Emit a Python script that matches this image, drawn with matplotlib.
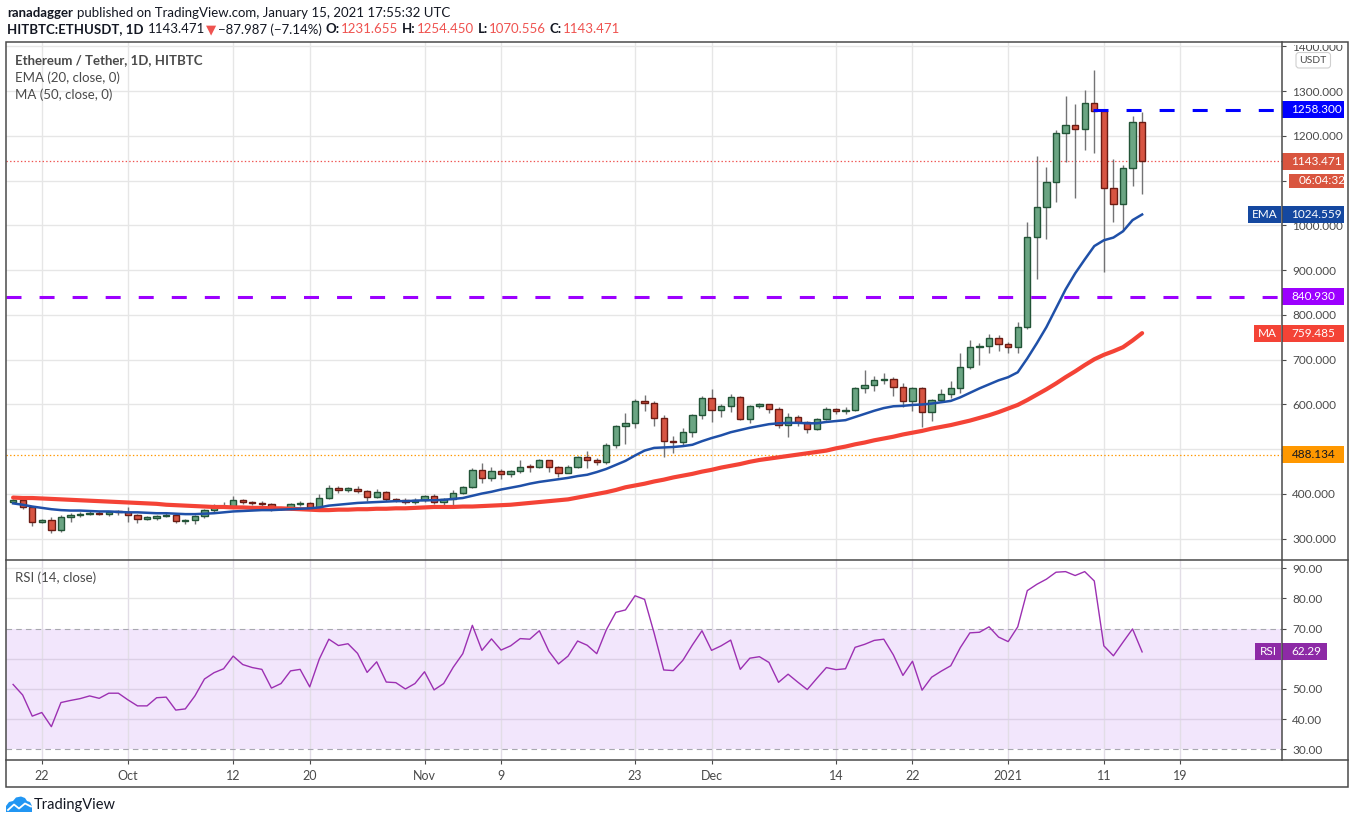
import matplotlib
matplotlib.use('Agg')
import matplotlib.pyplot as plt
import numpy as np
from matplotlib.patches import Rectangle, Polygon, FancyBboxPatch
from matplotlib.transforms import blended_transform_factory

plt.rcParams['font.family'] = ['Lato', 'DejaVu Sans']
plt.rcParams['lines.scale_dashes'] = False

# ---- data (daily candles, Sep 19 2020 .. Jan 15 2021), day 0 = Sep 22 ----
first_day = -3

opens = [383, 386, 370, 338, 342, 320, 348, 352, 355, 358, 356, 360,
         359, 352, 345, 347, 351, 354, 340, 342, 350, 364, 370, 374, 387, 381, 379, 377, 366, 368, 377,
         380, 368, 390, 413, 408, 412, 406, 393, 404, 388, 387, 382,
         386, 396, 382, 388, 402, 416, 454, 435, 452, 444, 451, 462, 460, 475, 461, 448, 460, 482, 477,
         471, 509, 551, 559, 607, 604, 569, 519, 517, 538, 576,
         615, 587, 597, 616, 568, 596, 600, 591, 555, 573, 560, 545, 567, 589, 585, 588, 636, 643, 654,
         657, 638, 607, 636, 584, 611, 624, 636, 683, 728, 731, 748,
         735, 729, 774, 975, 1042, 1098, 1207, 1225, 1216, 1273, 1255, 1083, 1047, 1128, 1231.655]
highs = [389, 388, 372, 345, 348, 353, 358, 360, 361, 363, 362, 364,
         371, 355, 350, 354, 359, 357, 344, 353, 366, 378, 381, 395, 389, 385, 384, 380, 369, 380, 384,
         382, 401, 420, 418, 416, 418, 409, 411, 406, 392, 390, 392,
         398, 400, 390, 409, 418, 457, 470, 460, 456, 453, 476, 466, 478, 477, 462, 464, 484, 496, 480,
         515, 554, 580, 612, 622, 607, 576, 529, 547, 578, 618,
         634, 602, 623, 620, 598, 603, 602, 594, 582, 576, 562, 570, 594, 593, 595, 640, 677, 663, 670,
         662, 649, 638, 640, 613, 634, 653, 714, 745, 737, 757, 755,
         740, 785, 1008, 1155, 1130, 1213, 1289, 1272, 1302, 1347, 1258, 1148, 1136, 1244, 1254.450]
lows = [380, 366, 329, 335, 313, 316, 337, 349, 352, 354, 351, 354,
        338, 335, 343, 341, 349, 336, 333, 334, 346, 360, 368, 371, 378, 376, 373, 362, 365, 365, 373,
        365, 366, 388, 402, 405, 402, 385, 390, 385, 382, 377, 378,
        383, 378, 372, 375, 400, 414, 424, 430, 433, 437, 447, 450, 458, 450, 439, 446, 458, 459, 465,
        468, 502, 511, 548, 586, 553, 482, 491, 507, 528, 567,
        561, 572, 584, 566, 558, 592, 582, 548, 528, 553, 536, 543, 565, 578, 578, 585, 625, 630, 645,
        619, 594, 586, 550, 564, 605, 614, 625, 680, 688, 716, 720,
        714, 716, 768, 880, 970, 1053, 1142, 1062, 1169, 1162, 897, 1007, 987, 1088, 1070.556]
closes = [387, 370, 338, 342, 320, 348, 352, 355, 358, 356, 360, 359,
          352, 345, 347, 351, 354, 340, 342, 350, 364, 370, 374, 387, 381, 379, 377, 366, 368, 377, 380,
          368, 390, 413, 408, 413, 406, 393, 404, 388, 387, 382, 386,
          396, 382, 388, 402, 416, 454, 435, 452, 444, 451, 461, 460, 475, 461, 448, 460, 482, 477, 471,
          509, 551, 559, 607, 604, 569, 519, 517, 538, 576, 615,
          587, 597, 616, 568, 596, 600, 591, 555, 573, 560, 545, 567, 589, 585, 588, 636, 643, 654, 657,
          638, 607, 636, 584, 611, 624, 636, 683, 728, 731, 748, 735,
          729, 774, 975, 1042, 1098, 1207, 1225, 1216, 1273, 1255, 1083, 1047, 1128, 1231.655, 1143.471]

ema20 = [379, 376, 372, 369, 366, 364, 363, 363, 362, 361, 361, 360,
         359, 359, 358, 357, 357, 356, 355, 355, 356, 357, 359, 361, 362, 363, 364, 364, 365, 366, 367,
         368, 370, 374, 376, 378, 380, 381, 382, 383, 384, 384, 385,
         386, 386, 387, 389, 391, 396, 401, 405, 410, 414, 418, 423, 427, 430, 433, 436, 440, 443, 449,
         456, 465, 474, 486, 497, 503, 504, 505, 507, 510, 518,
         525, 531, 538, 543, 548, 552, 556, 558, 559, 559, 558, 558, 561, 563, 565, 572, 579, 586, 592,
         596, 597, 599, 600, 602, 605, 608, 616, 626, 636, 645, 654,
         661, 672, 703, 737, 773, 815, 857, 893, 924, 954, 967, 973, 987, 1012, 1024.559]
ma50 = [392, 391, 391, 390, 389, 388, 387, 386, 385, 384, 383, 382,
        381, 380, 379, 378, 376, 375, 374, 373, 372, 371, 371, 370, 370, 369, 369, 368, 368, 367, 366,
        365, 364, 364, 365, 365, 366, 366, 367, 367, 368, 368, 369,
        370, 371, 371, 371, 372, 372, 373, 374, 375, 376, 378, 380, 382, 384, 386, 388, 392, 396, 400,
        404, 409, 415, 419, 423, 428, 432, 437, 441, 445, 450,
        454, 459, 463, 467, 472, 476, 479, 482, 485, 488, 491, 494, 497, 502, 506, 511, 515, 520, 524,
        528, 533, 537, 541, 546, 550, 554, 559, 564, 570, 576, 583,
        591, 599, 610, 622, 634, 647, 661, 674, 688, 701, 711, 719, 728, 743, 759.485]
rsi14 = [51.5, 48.0, 41.0, 42.2, 37.5, 45.5, 46.2, 46.8, 47.7, 46.9, 48.6, 48.6,
         46.4, 44.4, 44.4, 47.1, 47.3, 43.0, 43.4, 47.7, 53.3, 55.4, 56.7, 60.9, 58.1, 57.1, 56.5,
         50.3, 51.8, 56.0, 56.5, 50.7, 59.9, 66.5, 64.4, 65.0, 61.8, 55.5, 59.0, 52.3, 52.1, 50.0, 51.8,
         55.7, 49.7, 51.8, 57.2, 61.7, 71.1, 62.8, 66.6, 62.9, 64.3, 66.7, 66.5, 69.3, 62.5, 58.3,
         60.9, 65.9, 64.5, 61.7, 69.6, 75.4, 76.2, 80.9, 79.7, 68.5, 56.3, 56.1, 59.5, 64.6, 69.3,
         62.8, 64.3, 66.2, 56.5, 60.2, 60.7, 58.8, 52.2, 54.9, 52.3, 49.8, 53.5, 57.1, 56.4, 56.7,
         63.8, 64.8, 66.1, 66.5, 61.3, 54.5, 59.2, 49.6, 53.9, 55.9, 57.7, 63.7, 68.6, 68.8, 70.6, 67.2,
         65.7, 70.6, 82.6, 84.7, 86.4, 88.7, 88.9, 87.6, 88.9, 85.8, 64.3, 61.0, 65.5, 69.9, 62.29]

tick_days = [0, 9, 20, 28, 40, 48, 62, 70, 83, 91, 101, 111, 119]
tick_names = ['22', 'Oct', '12', '20', 'Nov', '9', '23', 'Dec', '14', '22', '2021', '11', '19']
price_ticks = list(range(300, 1500, 100))
rsi_ticks = [30, 40, 50, 60, 70, 80, 90]
hidden_price_ticks = [1100]   # covered by the price tags in the reference
hidden_rsi_ticks = [60]

resistance = 1258.300
resistance_start = 109.9
support = 840.930
base_level = 488.134
last_price = 1143.471
last_rsi = 62.29

# ---- layout (pixels) ----
W, H = 1351, 824
L, R = 6.4, 1282.0
TOP, MID, BOT = 41.7, 560.0, 760.3
TXT = '#4a4a4a'

def fr(x0, y0, x1, y1):
    return [x0 / W, 1 - y1 / H, (x1 - x0) / W, (y1 - y0) / H]

def fx(px):
    return (px - L) / (R - L)

fig = plt.figure(figsize=(W / 100, H / 100), dpi=100)
ax = fig.add_axes(fr(L, TOP, R, MID))
axr = fig.add_axes(fr(L, MID, R, BOT), sharex=ax)

x = np.arange(len(closes)) + first_day
o, h, l, c = (np.array(v, dtype=float) for v in (opens, highs, lows, closes))
up = c >= o

ax.set_xlim(-3.70, 129.62)
ax.set_ylim(252.5, 1410.7)
axr.set_ylim(26.36, 92.75)

# candles
ax.vlines(x, l, h, color='#737375', lw=1.0, zorder=3)
lo = np.minimum(o, c)
hgt = np.maximum(np.abs(c - o), 2.5)
ax.bar(x[up], hgt[up], bottom=lo[up], width=0.66, color='#6ba583',
       edgecolor='#225437', linewidth=1.0, zorder=4)
ax.bar(x[~up], hgt[~up], bottom=lo[~up], width=0.66, color='#d75442',
       edgecolor='#6b1c14', linewidth=1.0, zorder=4)

# moving averages
ax.plot(x, ma50, color='#f44336', lw=3.0, zorder=5, solid_capstyle='round')
ax.plot(x, ema20, color='#1f50a8', lw=1.8, zorder=6)

# horizontal levels
ax.plot([resistance_start, 129.62], [resistance] * 2, color='#0000ff', lw=2.2,
        linestyle=(0, (10.8, 13.0)), zorder=7)
ax.axhline(support, color='#9c00ff', lw=2.2, linestyle=(0, (10.8, 13.0)), zorder=7)
ax.axhline(base_level, color='#ff9800', lw=0.9, linestyle=(0, (1.0, 1.6)), zorder=2)
ax.axhline(last_price, color='#ef5350', lw=0.9, linestyle=(0, (1.0, 1.6)), zorder=2)

# main axes styling
ax.set_yticks(price_ticks)
ax.yaxis.set_major_formatter(matplotlib.ticker.FuncFormatter(
    lambda v, p: '' if round(v) in hidden_price_ticks else f'{v:.3f}'))
ax.set_xticks(tick_days)
ax.grid(True, color='#e6e6e6', lw=1.0)
ax.set_axisbelow(True)
ax.tick_params(axis='y', left=False, labelleft=False, right=True, labelright=True,
               length=3, width=0.8, color=TXT, pad=4.5, labelsize=8.5, labelcolor=TXT)
ax.tick_params(axis='x', bottom=False, labelbottom=False)
for s in ax.spines.values():
    s.set_visible(False)

# rsi panel
axr.axhspan(30, 70, color='#f2e6fc', zorder=0, lw=0)
for lv in (40, 50, 60):
    axr.axhline(lv, color='#dcd0e6', lw=1.0, zorder=1)
for lv in (80, 90):
    axr.axhline(lv, color='#e6e6e6', lw=1.0, zorder=1)
for lv in (30, 70):
    axr.axhline(lv, color='#a8a8b0', lw=0.8, linestyle=(0, (4, 3)), zorder=2)
axr.plot(x, rsi14, color='#9c30b2', lw=1.0, zorder=4)
axr.set_yticks(rsi_ticks)
axr.yaxis.set_major_formatter(matplotlib.ticker.FuncFormatter(
    lambda v, p: '' if round(v) in hidden_rsi_ticks else f'{v:.2f}'))
axr.grid(True, axis='x', color='#e2dde6', lw=1.0)
axr.set_axisbelow(True)
axr.set_xticks(tick_days, tick_names)
axr.tick_params(axis='y', left=False, labelleft=False, right=True, labelright=True,
                length=3, width=0.8, color=TXT, pad=4.5, labelsize=8.5, labelcolor=TXT)
axr.tick_params(axis='x', length=3, width=0.8, color=TXT, pad=4, labelsize=9, labelcolor=TXT)
for s in axr.spines.values():
    s.set_visible(False)

# legend texts inside the panels
ax.text(fx(15), 1 - (60 - TOP) / (MID - TOP), 'Ethereum / Tether, 1D, HITBTC', transform=ax.transAxes,
        fontsize=9.5, fontweight='bold', color=TXT, va='center', ha='left')
ax.text(fx(15), 1 - (77.5 - TOP) / (MID - TOP), 'EMA (20, close, 0)', transform=ax.transAxes,
        fontsize=9.5, color=TXT, va='center', ha='left')
ax.text(fx(15), 1 - (94.5 - TOP) / (MID - TOP), 'MA (50, close, 0)', transform=ax.transAxes,
        fontsize=9.5, color=TXT, va='center', ha='left')
axr.text(fx(15), 1 - (577.3 - MID) / (BOT - MID), 'RSI (14, close)', transform=axr.transAxes,
         fontsize=9.5, color=TXT, va='center', ha='left')


# price tags on the right scale
def tag(axis, value, text, bg, fg='white', x0=1282, x1=1344, name=None, name_x0=None, hpx=17):
    y0, y1 = axis.get_ylim()
    bb = axis.get_position()
    ppu = bb.height * H / (y1 - y0)
    hh = hpx / ppu
    tr = blended_transform_factory(axis.transAxes, axis.transData)
    axis.add_patch(Rectangle((fx(x0), value - hh / 2), fx(x1) - fx(x0), hh, transform=tr,
                             facecolor=bg, edgecolor='none', clip_on=False, zorder=20))
    axis.text(fx(x0 + 9.5), value, text, transform=tr, color=fg, fontsize=8.5,
              va='center', ha='left', clip_on=False, zorder=21)
    if name:
        axis.add_patch(Rectangle((fx(name_x0), value - hh / 2), fx(1281) - fx(name_x0), hh,
                                 transform=tr, facecolor=bg, edgecolor='none', clip_on=False, zorder=20))
        axis.text(fx((name_x0 + 1281) / 2), value, name, transform=tr, color=fg, fontsize=8.5,
                  va='center', ha='center', clip_on=False, zorder=21)
    return ppu


ppu = tag(ax, resistance, f'{resistance:.3f}', '#0000ff')
tag(ax, last_price, f'{last_price:.3f}', '#d9553f')
tag(ax, last_price - 19.5 / ppu, '06:04:32', '#d9553f', x0=1289, hpx=14.5)
tag(ax, ema20[-1], f'{ema20[-1]:.3f}', '#1548a0', name='EMA', name_x0=1248)
tag(ax, support, f'{support:.3f}', '#9c00ff')
tag(ax, ma50[-1], f'{ma50[-1]:.3f}', '#f44336', name='MA', name_x0=1254)
tag(ax, base_level, f'{base_level:.3f}', '#ff9800', fg='#131722')
tag(axr, last_rsi, f'{last_rsi:.2f}', '#8d2aa6', x1=1327, name='RSI', name_x0=1255)

# overlay for frame, header and logo (pixel coordinates)
ov = fig.add_axes([0, 0, 1, 1], zorder=10)
ov.set_xlim(0, W)
ov.set_ylim(H, 0)
ov.axis('off')
ov.patch.set_alpha(0)

# the top scale label is cut by the frame in the reference
ov.add_patch(Rectangle((1283, 30), 64, 14.5, facecolor='white', edgecolor='none'))
ov.add_patch(FancyBboxPatch((1296, 52.5), 34.5, 15.5, boxstyle='round,pad=0,rounding_size=3',
                            facecolor='white', edgecolor='#cfcfcf', lw=0.8))
ov.text(1313, 60.5, 'USDT', fontsize=7.5, color=TXT, ha='center', va='center')

frame = dict(color='#4a4a4a', lw=1.1)
ov.add_patch(Rectangle((L, TOP), 1348 - L, 787.3 - TOP, fill=False, edgecolor='#4a4a4a', lw=1.1))
ov.plot([L, 1348], [MID, MID], **frame)
ov.plot([L, 1348], [BOT, BOT], **frame)
ov.plot([R, R], [TOP, BOT], **frame)

ov.text(7, 12.7, 'ranadagger', fontsize=9.5, fontweight='bold', color='#131722', va='center', ha='left')
ov.text(77, 12.7, 'published on TradingView.com, January 15, 2021 17:55:32 UTC', fontsize=9.5,
        color='#131722', va='center', ha='left')

parts = [('HITBTC:ETHUSDT, 1D', 'bold', '#131722', 0),
         ('1143.471', 'normal', '#131722', 3),
         ('\u25bc', 'normal', '#ef5350', 1),
         ('\u221287.987 (\u22127.14%)', 'normal', '#131722', 1),
         ('O:', 'bold', '#131722', 3),
         ('1231.655', 'normal', '#ef5350', 0.5),
         ('H:', 'bold', '#131722', 3),
         ('1254.450', 'normal', '#ef5350', 0.5),
         ('L:', 'bold', '#131722', 3),
         ('1070.556', 'normal', '#ef5350', 0.5),
         ('C:', 'bold', '#131722', 3),
         ('1143.471', 'normal', '#ef5350', 0.5)]
prev = ov.text(7, 29.3, parts[0][0], fontsize=9.5, fontweight=parts[0][1], color=parts[0][2],
               va='center', ha='left')
for txt, wt, col, gap in parts[1:]:
    prev = ov.annotate(txt, xy=(1, 0.5), xycoords=prev, xytext=(gap, 0), textcoords='offset points',
                       fontsize=9.5, fontweight=wt, color=col, va='center', ha='left')

# TradingView logo
ov.add_patch(Polygon([(6, 812), (6, 806), (9, 802), (13, 801), (16, 797.5), (21, 796.5), (25, 798),
                      (27, 801), (30, 802), (32, 806), (32, 812)], closed=True,
                     facecolor='#2196f3', edgecolor='none'))
ov.plot([8, 14, 19, 25, 31], [810, 804.5, 808.5, 803.5, 806.5], color='white', lw=1.3)
ov.text(34, 805, 'TradingView', fontsize=10.5, color='#131722', va='center', ha='left')

fig.savefig('out.png', dpi=100)
